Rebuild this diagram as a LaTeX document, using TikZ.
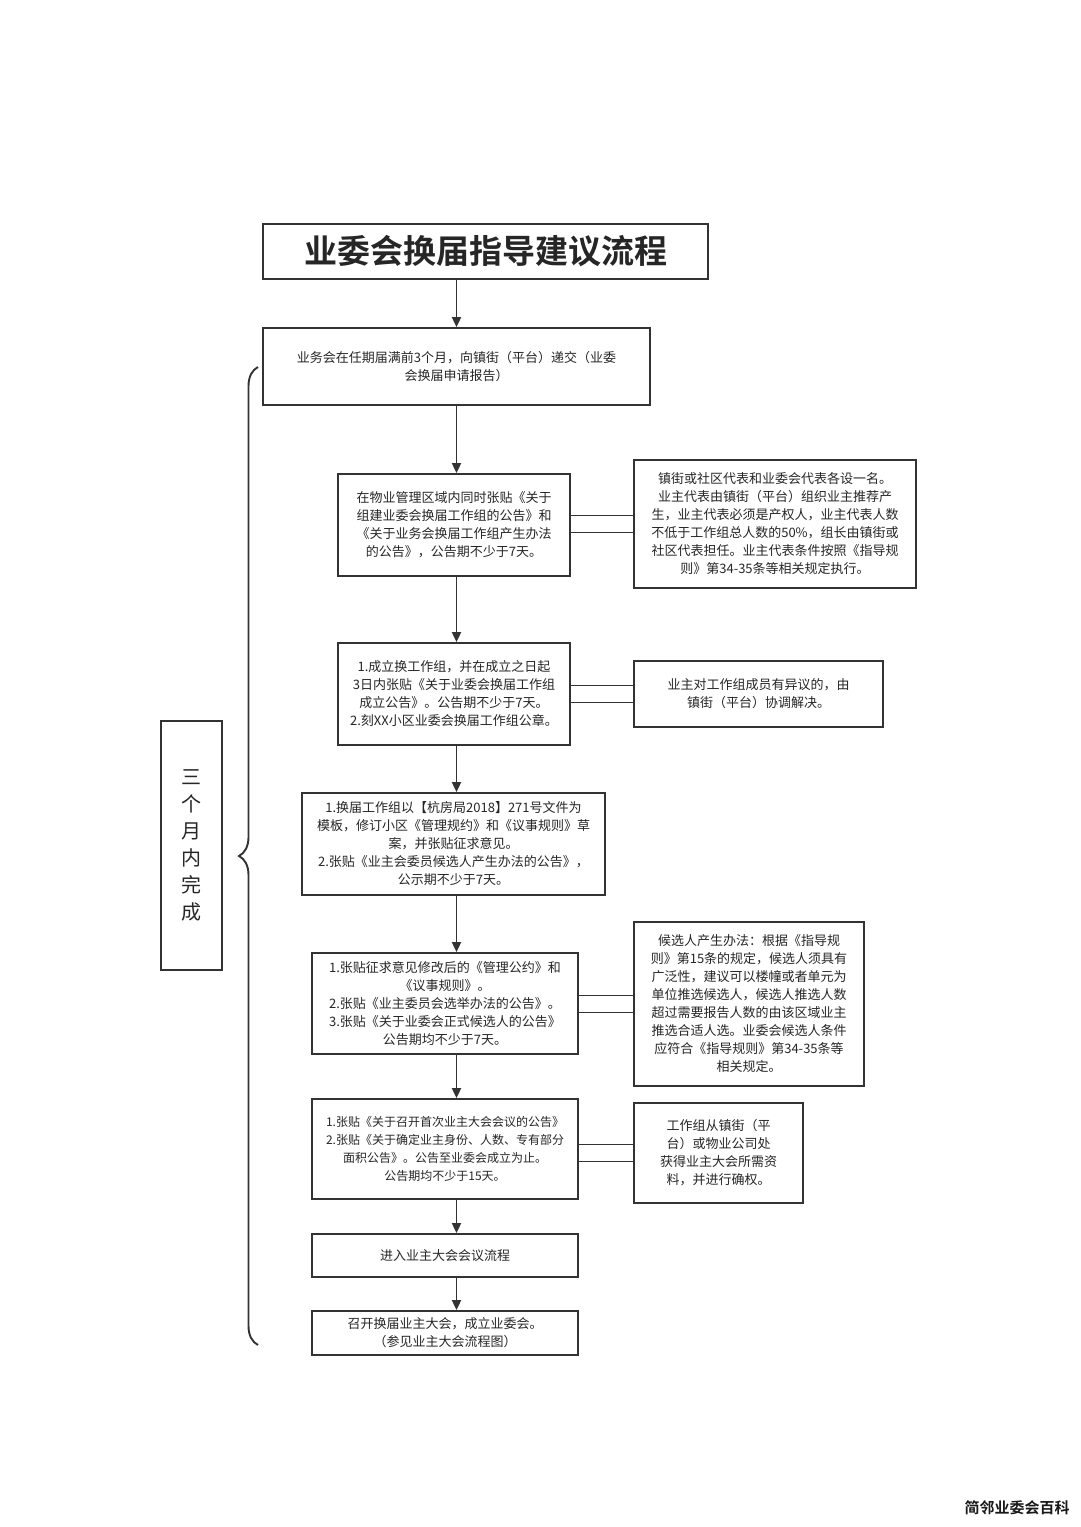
\documentclass[tikz,border=0pt]{standalone}
\usepackage{fontspec}
\setmainfont{Noto Sans CJK SC}[BoldFont={Noto Sans CJK SC Bold}]
\usetikzlibrary{arrows.meta,decorations.pathreplacing}
\tikzset{
  stepbox/.style={draw=black!80, line width=1.8pt, align=center, inner sep=0pt,
    text=black!85, font=\fontsize{13}{18}\selectfont},
  flow/.style={draw=black!80, line width=1.8pt, -{Triangle[length=10pt,width=9pt]}},
  link/.style={draw=black!80, line width=1.5pt}
}
\begin{document}
\begin{tikzpicture}[x=1pt,y=-1pt]
  \fill[white] (0,0) rectangle (1080,1527);
  \useasboundingbox (0,0) rectangle (1080,1527);
  % title
  \node[stepbox, minimum width=445, minimum height=55,
    font=\fontsize{33}{40}\selectfont\bfseries] (title) at (485.5,251.5) {业委会换届指导建议流程};
  % main steps
  \node[stepbox, minimum width=387, minimum height=77] (b1) at (456.5,366.5)
    {业务会在任期届满前3个月，向镇街（平台）递交（业委\\会换届申请报告）};
  \node[stepbox, minimum width=232, minimum height=102] (b2) at (454,525)
    {在物业管理区域内同时张贴《关于\\组建业委会换届工作组的公告》和\\《关于业务会换届工作组产生办法\\的公告》，公告期不少于7天。};
  \node[stepbox, minimum width=232, minimum height=102] (b3) at (454,694)
    {1.成立换工作组，并在成立之日起\\3日内张贴《关于业委会换届工作组\\成立公告》。公告期不少于7天。\\2.刻XX小区业委会换届工作组公章。};
  \node[stepbox, minimum width=303, minimum height=102] (b4) at (453.5,844)
    {1.换届工作组以【杭房局2018】271号文件为\\模板，修订小区《管理规约》和《议事规则》草\\案，并张贴征求意见。\\2.张贴《业主会委员候选人产生办法的公告》，\\公示期不少于7天。};
  \node[stepbox, minimum width=266, minimum height=101] (b5) at (445,1003.5)
    {1.张贴征求意见修改后的《管理公约》和\\《议事规则》。\\2.张贴《业主委员会选举办法的公告》。\\3.张贴《关于业委会正式候选人的公告》\\公告期均不少于7天。};
  \node[stepbox, minimum width=266, minimum height=100, font=\fontsize{12}{18}\selectfont] (b6) at (445,1149)
    {1.张贴《关于召开首次业主大会会议的公告》\\2.张贴《关于确定业主身份、人数、专有部分\\面积公告》。公告至业委会成立为止。\\公告期均不少于15天。};
  \node[stepbox, minimum width=266, minimum height=43] (b7) at (445,1255.5) {进入业主大会会议流程};
  \node[stepbox, minimum width=266, minimum height=44] (b8) at (445,1333)
    {召开换届业主大会，成立业委会。\\（参见业主大会流程图）};
  % side notes
  \node[stepbox, minimum width=282, minimum height=128] (s2) at (775,524)
    {镇街或社区代表和业委会代表各设一名。\\业主代表由镇街（平台）组织业主推荐产\\生，业主代表必须是产权人，业主代表人数\\不低于工作组总人数的50\%，组长由镇街或\\社区代表担任。业主代表条件按照《指导规\\则》第34-35条等相关规定执行。};
  \node[stepbox, minimum width=249, minimum height=66] (s3) at (758.5,694)
    {业主对工作组成员有异议的，由\\镇街（平台）协调解决。};
  \node[stepbox, minimum width=230, minimum height=164] (s5) at (749,1004)
    {候选人产生办法：根据《指导规\\则》第15条的规定，候选人须具有\\广泛性，建议可以楼幢或者单元为\\单位推选候选人，候选人推选人数\\超过需要报告人数的由该区域业主\\推选合适人选。业委会候选人条件\\应符合《指导规则》第34-35条等\\相关规定。};
  \node[stepbox, minimum width=169, minimum height=100] (s6) at (718.5,1153)
    {工作组从镇街（平\\台）或物业公司处\\获得业主大会所需资\\料，并进行确权。};
  % time span
  \node[stepbox, minimum width=61, minimum height=249,
    font=\fontsize{20}{27}\selectfont] (span) at (191.5,845.5) {三\\个\\月\\内\\完\\成};
  \draw[black!80, line width=1.9pt, decorate, decoration={brace, amplitude=19pt}]
    (258,1345) -- (258,367);
  % arrows
  \draw[flow] (title.south -| b1.north) -- (b1.north);
  \draw[flow] (b1.south) -- (b2.north -| b1.south);
  \draw[flow] (b2.south -| b1.south) -- (b3.north -| b1.south);
  \draw[flow] (b3.south -| b1.south) -- (b4.north -| b1.south);
  \draw[flow] (b4.south -| b1.south) -- (b5.north -| b1.south);
  \draw[flow] (b5.south -| b1.south) -- (b6.north -| b1.south);
  \draw[flow] (b6.south -| b1.south) -- (b7.north -| b1.south);
  \draw[flow] (b7.south -| b1.south) -- (b8.north -| b1.south);
  % double links to notes
  \foreach \n/\m in {b2/s2, b3/s3, b5/s5, b6/s6} {
    \draw[link] ([yshift=8.5pt]\n.east |- \m.west) -- ([yshift=8.5pt]\m.west);
    \draw[link] ([yshift=-8.5pt]\n.east |- \m.west) -- ([yshift=-8.5pt]\m.west);
  }
  % watermark
  \node[text=black!90, font=\fontsize{15}{15}\selectfont\bfseries] (mark) at (1017,1508) {简邻业委会百科};
\end{tikzpicture}
\end{document}
